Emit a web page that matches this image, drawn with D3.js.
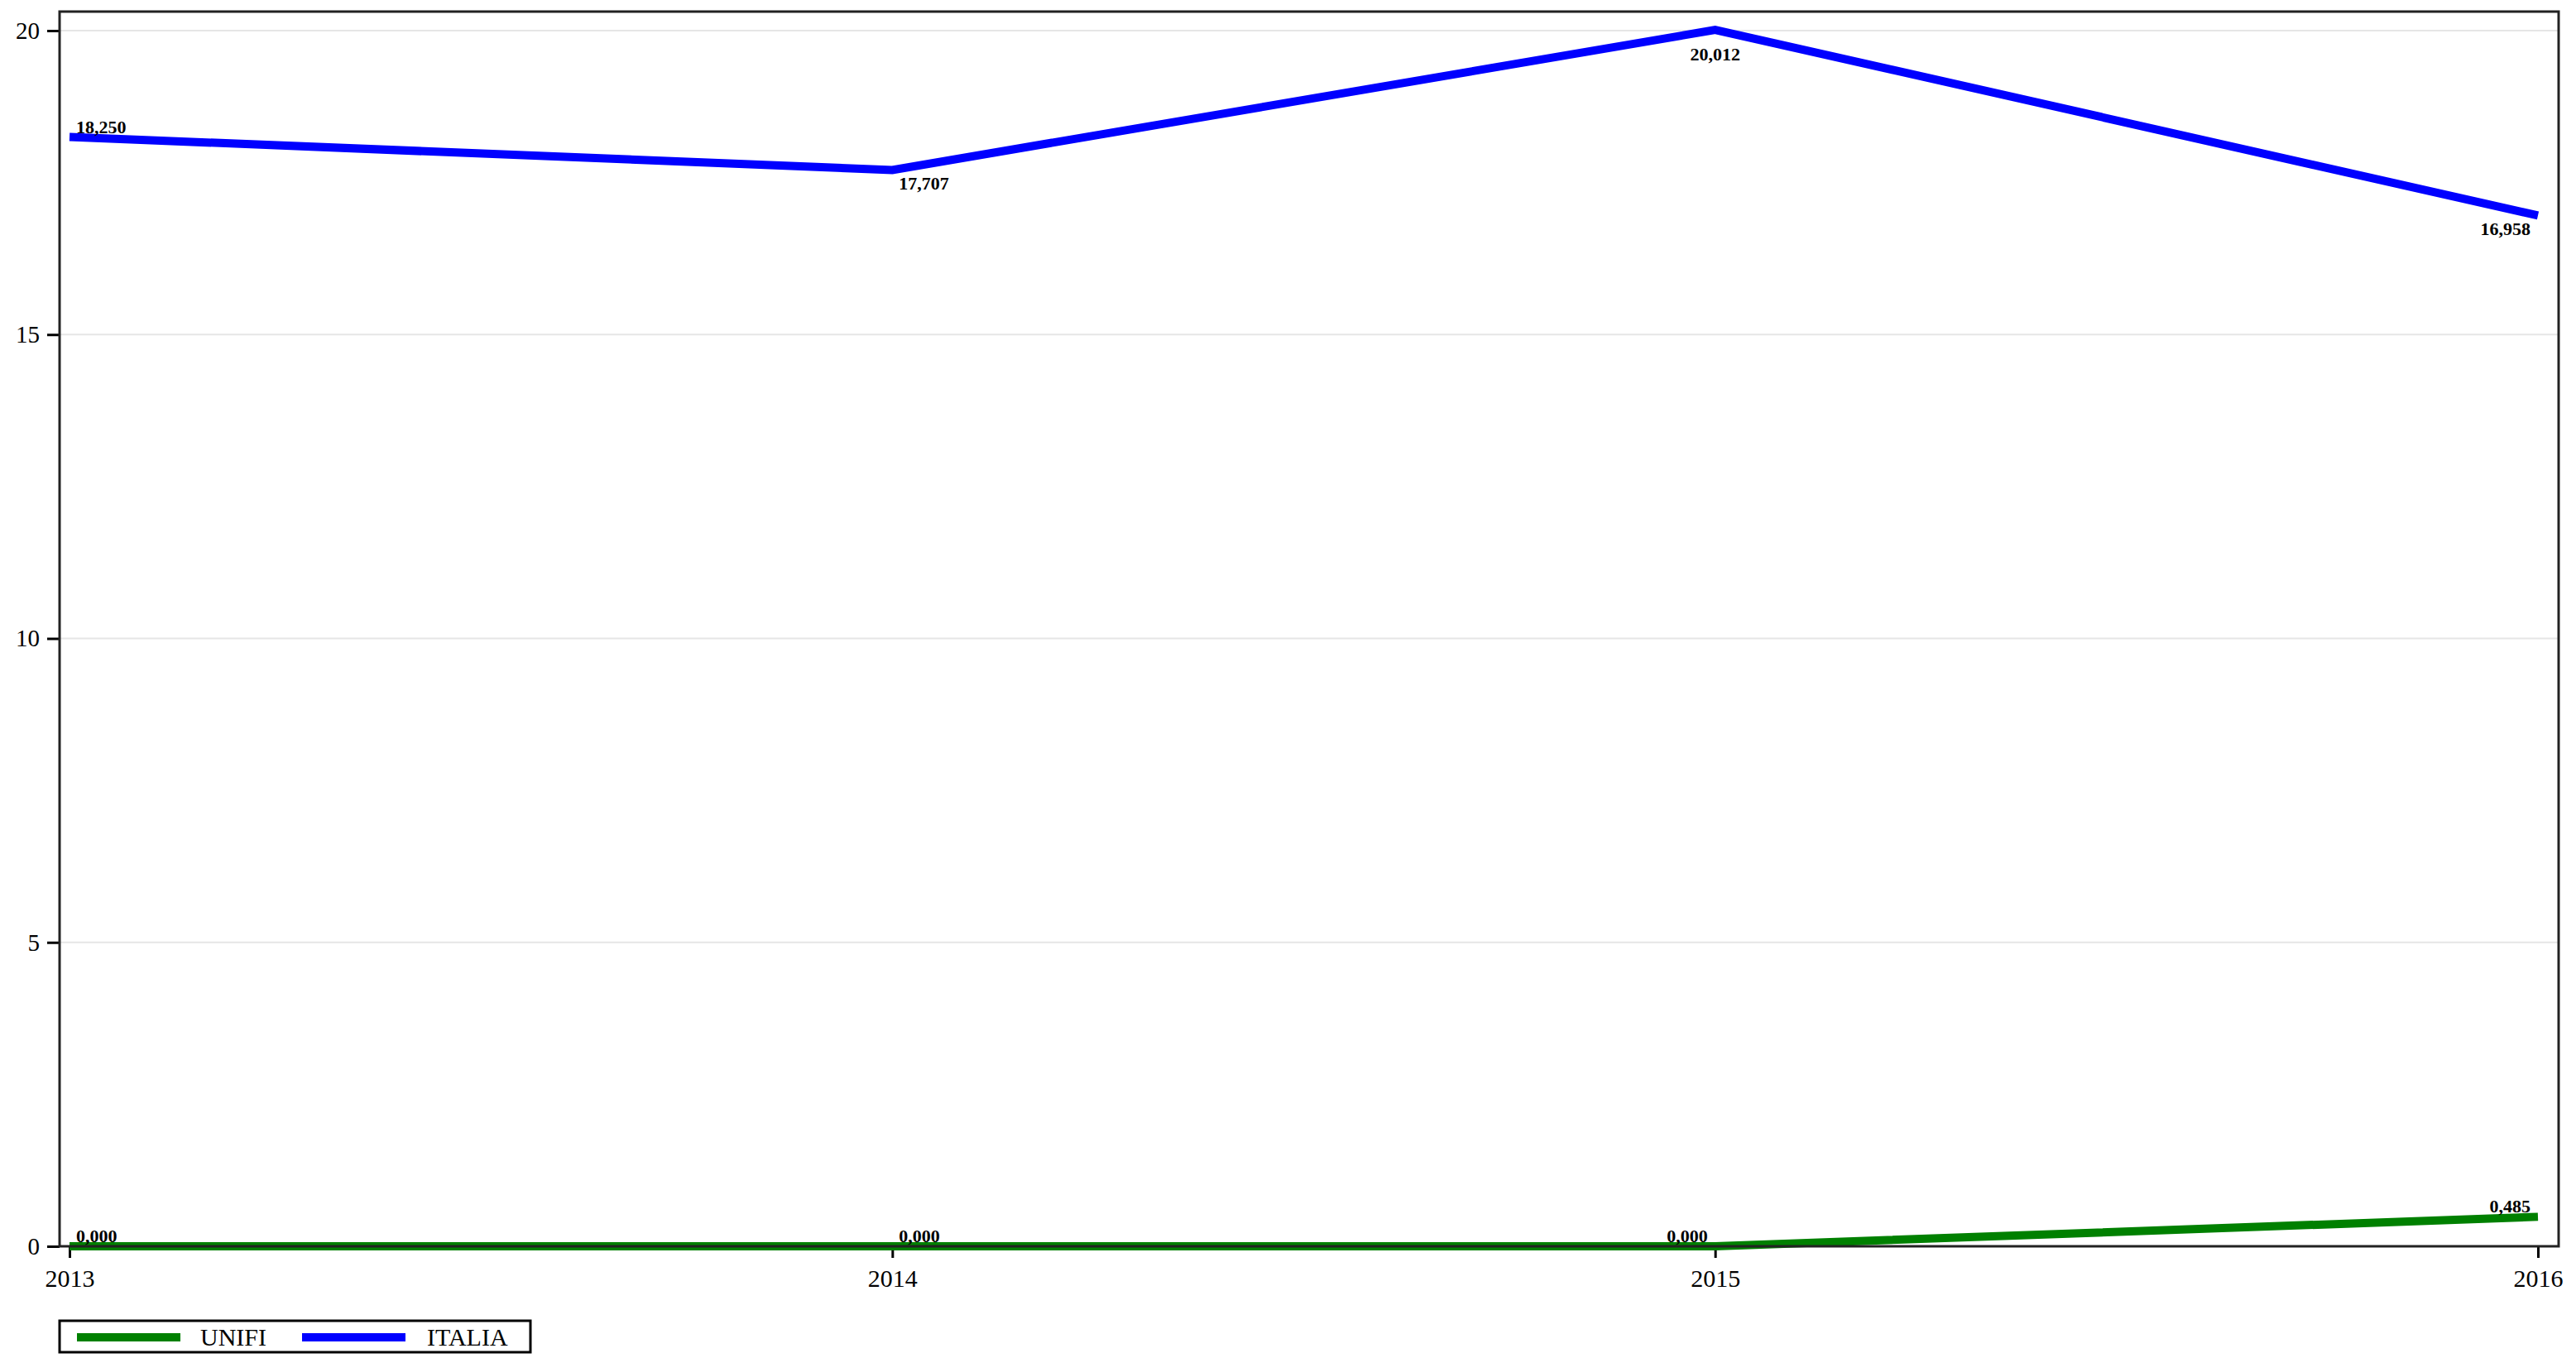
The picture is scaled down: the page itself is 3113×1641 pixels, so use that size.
<!DOCTYPE html>
<html>
<head>
<meta charset="utf-8">
<script src="https://cdn.jsdelivr.net/npm/d3@7"></script>
<style>
  html, body { margin: 0; padding: 0; background: #ffffff; }
  svg { display: block; }
  text { font-family: "Liberation Serif", "DejaVu Serif", serif; fill: #000; }
</style>
</head>
<body>
<svg id="chart" width="3113" height="1641"></svg>
<script>
// ---- data ----
const years = [2013, 2014, 2015, 2016];
const unifiValues = [0.000, 0.000, 0.000, 0.485];
const italiaValues = [18.250, 17.707, 20.012, 16.958];
const yTickValues = [0, 5, 10, 15, 20];
const seriesNames = ["UNIFI", "ITALIA"];
// label placement (style only)
const unifiLabelPos = ["above-start", "above-start", "above-end", "above-end"];
const italiaLabelPos = ["above-start", "below-start", "below-middle", "below-end"];

const colors = { UNIFI: "#008000", ITALIA: "#0000ff" };

const svg = d3.select("#chart");
const W = 3113, H = 1641;
const frame = { left: 72, top: 14, right: 3092, bottom: 1506 };

const x = d3.scaleLinear().domain([2013, 2016]).range([84, 3067]);
const y = d3.scaleLinear().domain([0, 20]).range([1506, 37]);

svg.append("rect").attr("width", W).attr("height", H).attr("fill", "#fff");

// gridlines
svg.append("g").selectAll("line").data(yTickValues.filter(d => d > 0)).join("line")
  .attr("x1", frame.left).attr("x2", frame.right)
  .attr("y1", d => y(d)).attr("y2", d => y(d))
  .attr("stroke", "#e6e6e6").attr("stroke-width", 2);

// y axis
const yAxis = svg.append("g").attr("transform", `translate(${frame.left},0)`)
  .call(d3.axisLeft(y).tickValues(yTickValues).tickSize(15).tickPadding(9).tickFormat(d3.format("d")));
yAxis.select(".domain").remove();
yAxis.selectAll(".tick line").attr("stroke", "#000").attr("stroke-width", 3);
yAxis.selectAll(".tick text").attr("font-size", 29).attr("font-family", '"Liberation Serif", serif').attr("fill", "#000");

// x axis
const xAxis = svg.append("g").attr("transform", `translate(0,${frame.bottom})`)
  .call(d3.axisBottom(x).tickValues(years).tickSize(14).tickPadding(14).tickFormat(d3.format("d")));
xAxis.select(".domain").remove();
xAxis.selectAll(".tick line").attr("stroke", "#000").attr("stroke-width", 3);
xAxis.selectAll(".tick text").attr("font-size", 30).attr("font-family", '"Liberation Serif", serif').attr("fill", "#000");

// lines
const line = d3.line().x((d, i) => x(years[i])).y(d => y(d));
const series = [
  { name: "UNIFI", values: unifiValues, pos: unifiLabelPos },
  { name: "ITALIA", values: italiaValues, pos: italiaLabelPos }
];
svg.append("g").selectAll("path").data(series).join("path")
  .attr("d", d => line(d.values))
  .attr("fill", "none")
  .attr("stroke", d => colors[d.name])
  .attr("stroke-width", 10)
  .attr("stroke-linejoin", "miter");

// frame
svg.append("rect")
  .attr("x", frame.left).attr("y", frame.top)
  .attr("width", frame.right - frame.left).attr("height", frame.bottom - frame.top)
  .attr("fill", "none").attr("stroke", "#222").attr("stroke-width", 3);

// value labels
const fmt = d3.formatLocale({ decimal: ",", thousands: ".", grouping: [3], currency: ["", "€"] }).format(".3f");
const labels = [];
series.forEach(s => s.values.forEach((v, i) => labels.push({ v, i, pos: s.pos[i] })));
svg.append("g").selectAll("text").data(labels).join("text")
  .attr("x", d => {
    const px = x(years[d.i]);
    if (d.pos.endsWith("start")) return px + 8;
    if (d.pos.endsWith("end")) return px - 9;
    return px;
  })
  .attr("y", d => {
    const py = y(d.v);
    if (d.pos.startsWith("above")) return py - 5;
    if (d.pos === "below-middle") return py + 37;
    return py + 24;
  })
  .attr("text-anchor", d => d.pos.endsWith("start") ? "start" : d.pos.endsWith("end") ? "end" : "middle")
  .attr("font-size", 22)
  .attr("font-weight", "bold")
  .text(d => fmt(d.v));

// legend
const lg = svg.append("g");
lg.append("rect").attr("x", 72).attr("y", 1596).attr("width", 569).attr("height", 38)
  .attr("fill", "#fff").attr("stroke", "#000").attr("stroke-width", 3);
const legendItems = [
  { name: seriesNames[0], x0: 93, x1: 218, tx: 242 },
  { name: seriesNames[1], x0: 365, x1: 490, tx: 516 }
];
lg.selectAll("line.sw").data(legendItems).join("line").attr("class", "sw")
  .attr("x1", d => d.x0).attr("x2", d => d.x1).attr("y1", 1616).attr("y2", 1616)
  .attr("stroke", d => colors[d.name]).attr("stroke-width", 10);
lg.selectAll("text").data(legendItems).join("text")
  .attr("x", d => d.tx).attr("y", 1626).attr("font-size", 30)
  .text(d => d.name);
</script>
</body>
</html>
